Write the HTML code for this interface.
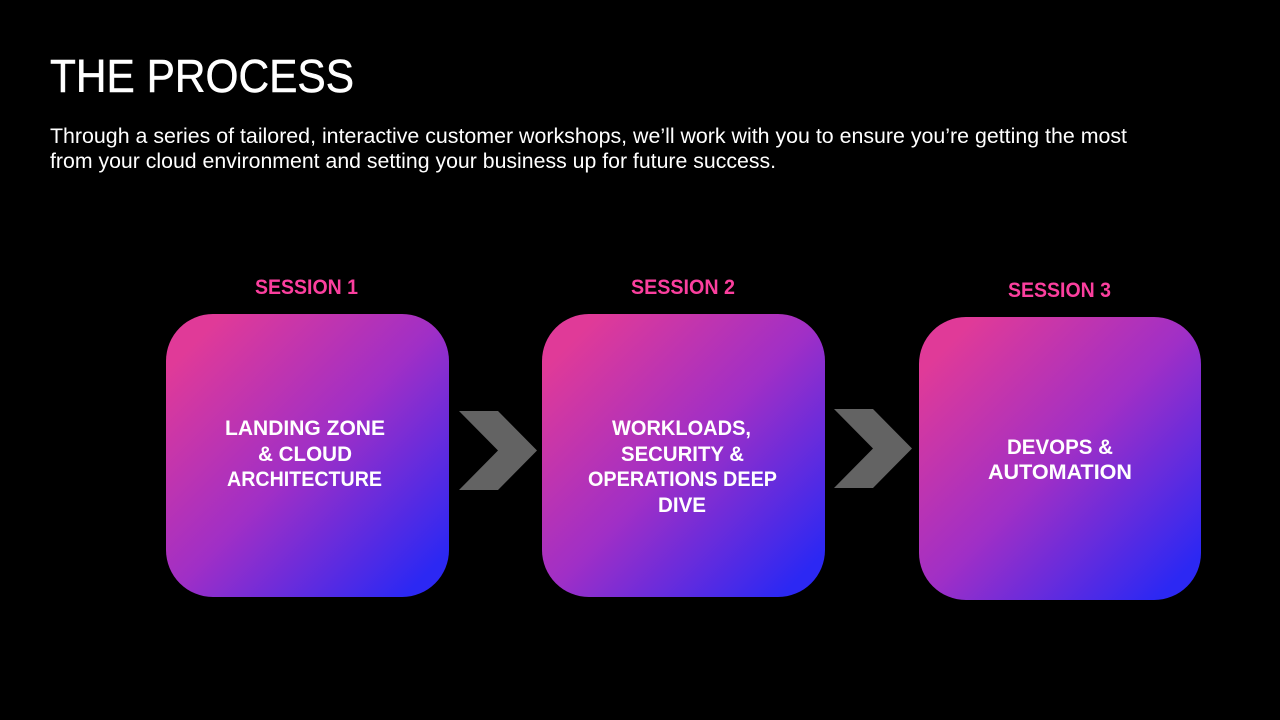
<!DOCTYPE html>
<html>
<head>
<meta charset="utf-8">
<style>
html,body{margin:0;padding:0;background:#000;width:1280px;height:720px;overflow:hidden}
svg{display:block}
text{font-family:"Liberation Sans",sans-serif}
.b{font-weight:700;font-size:21px;fill:#fff}
.s{font-weight:700;font-size:21px;fill:#fb3f9e}
.p{font-size:21.5px;fill:#fff}
</style>
</head>
<body>
<svg width="1280" height="720" viewBox="0 0 1280 720" xmlns="http://www.w3.org/2000/svg">
<defs>
<linearGradient id="g" x1="0" y1="0" x2="1" y2="1">
<stop offset="0.1" stop-color="#e03a98"/>
<stop offset="0.5" stop-color="#a02fc6"/>
<stop offset="0.92" stop-color="#2c28f3"/>
</linearGradient>
</defs>
<rect width="1280" height="720" fill="#000"/>

<text x="50" y="92" font-size="46" fill="#fff" stroke="#fff" stroke-width="0.5" textLength="304" lengthAdjust="spacingAndGlyphs">THE PROCESS</text>
<text class="p" x="50" y="143" textLength="1077" lengthAdjust="spacingAndGlyphs">Through a series of tailored, interactive customer workshops, we’ll work with you to ensure you’re getting the most</text>
<text class="p" x="50" y="168" textLength="726" lengthAdjust="spacingAndGlyphs">from your cloud environment and setting your business up for future success.</text>

<text class="s" x="255" y="294" textLength="103" lengthAdjust="spacingAndGlyphs">SESSION 1</text>
<text class="s" x="631" y="294" textLength="104" lengthAdjust="spacingAndGlyphs">SESSION 2</text>
<text class="s" x="1008" y="297" textLength="103" lengthAdjust="spacingAndGlyphs">SESSION 3</text>

<rect x="166" y="314" width="283" height="283" rx="47" fill="url(#g)"/>
<rect x="542" y="314" width="283" height="283" rx="47" fill="url(#g)"/>
<rect x="919" y="317" width="282" height="283" rx="47" fill="url(#g)"/>

<polygon points="459,411 498,411 537,450.5 498,490 459,490 498,450.5" fill="#636363"/>
<polygon points="834,409 873,409 912,448.5 873,488 834,488 873,448.5" fill="#636363"/>

<text class="b" x="225" y="435" textLength="160" lengthAdjust="spacingAndGlyphs">LANDING ZONE</text>
<text class="b" x="258" y="461" textLength="94" lengthAdjust="spacingAndGlyphs">&amp; CLOUD</text>
<text class="b" x="227" y="486" textLength="155" lengthAdjust="spacingAndGlyphs">ARCHITECTURE</text>

<text class="b" x="612" y="435" textLength="139" lengthAdjust="spacingAndGlyphs">WORKLOADS,</text>
<text class="b" x="621" y="461" textLength="123" lengthAdjust="spacingAndGlyphs">SECURITY &amp;</text>
<text class="b" x="588" y="486" textLength="189" lengthAdjust="spacingAndGlyphs">OPERATIONS DEEP</text>
<text class="b" x="658" y="512" textLength="48" lengthAdjust="spacingAndGlyphs">DIVE</text>

<text class="b" x="1007" y="454" textLength="106" lengthAdjust="spacingAndGlyphs">DEVOPS &amp;</text>
<text class="b" x="988" y="479" textLength="144" lengthAdjust="spacingAndGlyphs">AUTOMATION</text>
</svg>
</body>
</html>
